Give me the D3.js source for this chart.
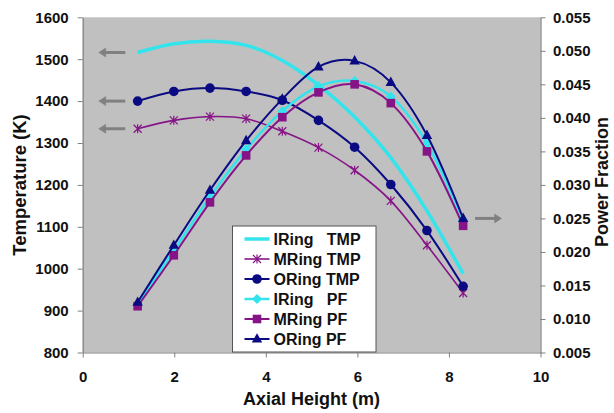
<!DOCTYPE html>
<html>
<head>
<meta charset="utf-8">
<script src="https://cdn.jsdelivr.net/npm/d3@7"></script>
<style>
  body { margin: 0; background: #fff; }
  svg text { font-family: "Liberation Sans", Arial, sans-serif; font-weight: bold; fill: #111; }
</style>
</head>
<body>
<div id="chart"></div>
<script>
// Data
const axialHeight = [1.2, 1.99, 2.78, 3.57, 4.36, 5.15, 5.94, 6.73, 7.52, 8.31];
const iRingTmp = [1516, 1537, 1543, 1533, 1497, 1438, 1362, 1265, 1138, 988];
const mRingTmp = [1334, 1354, 1363, 1358, 1328, 1289, 1235, 1162, 1056, 942];
const oRingTmp = [1400, 1423, 1431, 1423, 1402, 1354, 1290, 1201, 1091, 958];
const iRingPf = [0.0122, 0.0202, 0.0282, 0.0353, 0.0410, 0.0447, 0.0455, 0.0432, 0.0362, 0.0248];
const mRingPf = [0.0119, 0.0195, 0.0274, 0.0344, 0.0401, 0.0438, 0.0450, 0.0422, 0.0350, 0.0239];
const oRingPf = [0.0125, 0.0210, 0.0292, 0.0366, 0.0428, 0.0476, 0.0485, 0.0453, 0.0374, 0.0250];

const xTicks = [0, 2, 4, 6, 8, 10];
const tmpTicks = d3.range(800, 1601, 100);
const pfTicks = d3.range(0.005, 0.0551, 0.005);

// arrows pointing from the curves to their axis (in axial height units)
const leftArrowSpan = [0.93, 0.35];
const rightArrowSpan = [8.57, 9.15];

const width = 614;
const height = 413;

const svg = d3.select("#chart").append("svg").attr("width", width).attr("height", height);

const x = d3.scaleLinear().domain([0, 10]).range([82.7, 540.5]);
const yT = d3.scaleLinear().domain([800, 1600]).range([352.5, 17.3]);
const yP = d3.scaleLinear().domain([0.005, 0.055]).range([352.5, 17.3]);

// plot area
svg.append("rect")
  .attr("x", x(0)).attr("y", yT(1600))
  .attr("width", x(10) - x(0)).attr("height", yT(800) - yT(1600))
  .attr("fill", "#c0c0c0");

const cyan = "#33e4ec";
const purple = "#861486";
const navy = "#0a0a82";

const series = [
  { name: "IRing   TMP", values: iRingTmp, y: yT, color: cyan, lw: 3.5, marker: null },
  { name: "MRing TMP", values: mRingTmp, y: yT, color: purple, lw: 1.6, marker: "star" },
  { name: "ORing TMP", values: oRingTmp, y: yT, color: navy, lw: 2, marker: "circle" },
  { name: "IRing   PF", values: iRingPf, y: yP, color: cyan, lw: 2.5, marker: "diamond" },
  { name: "MRing PF", values: mRingPf, y: yP, color: purple, lw: 2, marker: "square" },
  { name: "ORing PF", values: oRingPf, y: yP, color: navy, lw: 2, marker: "triangle" }
];

function drawMarker(g, type, color) {
  if (type === "circle") {
    g.append("circle").attr("r", 4.8).attr("fill", color);
  } else if (type === "square") {
    g.append("rect").attr("x", -4.3).attr("y", -4.3).attr("width", 8.6).attr("height", 8.6).attr("fill", color);
  } else if (type === "triangle") {
    g.append("path").attr("d", "M0,-5.8L5.2,3.6L-5.2,3.6Z").attr("fill", color);
  } else if (type === "diamond") {
    g.append("path").attr("d", "M0,-5L5,0L0,5L-5,0Z").attr("fill", color);
  } else if (type === "star") {
    g.append("path").attr("d", "M-4,-4L4,4M-4,4L4,-4M0,-4.5L0,4.5")
      .attr("stroke", color).attr("stroke-width", 1.2).attr("fill", "none");
  }
}

const line = (yScale) => d3.line()
  .x((d, i) => x(axialHeight[i]))
  .y((d) => yScale(d))
  .curve(d3.curveCardinal.tension(0));

series.forEach((s) => {
  svg.append("path")
    .datum(s.values)
    .attr("d", line(s.y))
    .attr("fill", "none")
    .attr("stroke", s.color)
    .attr("stroke-width", s.lw);
  if (s.marker) {
    s.values.forEach((v, i) => {
      const g = svg.append("g").attr("transform", `translate(${x(axialHeight[i])},${s.y(v)})`);
      drawMarker(g, s.marker, s.color);
    });
  }
});

// gray arrows
function arrow(x1, x2, y) {
  const dir = x2 < x1 ? -1 : 1;
  const g = svg.append("g").attr("fill", "#808080").attr("stroke", "#808080");
  g.append("line").attr("x1", x1).attr("x2", x2 - dir * 5).attr("y1", y).attr("y2", y).attr("stroke-width", 3);
  g.append("path")
    .attr("d", `M${x2},${y}L${x2 - dir * 7},${y - 4.5}L${x2 - dir * 7},${y + 4.5}Z`)
    .attr("stroke-width", 0.5);
}
[iRingTmp, oRingTmp, mRingTmp].forEach((vals) => {
  arrow(x(leftArrowSpan[0]), x(leftArrowSpan[1]), yT(vals[0]));
});
arrow(x(rightArrowSpan[0]), x(rightArrowSpan[1]), yP(oRingPf[oRingPf.length - 1]));

// axes
const axisColor = "#808080";
function styleAxis(g, fontSize) {
  g.selectAll(".domain").attr("stroke", axisColor).attr("stroke-width", 1.2);
  g.selectAll(".tick line").attr("stroke", axisColor);
  g.selectAll(".tick text").attr("font-size", fontSize).style("fill", "#111")
    .attr("font-family", "'Liberation Sans', Arial, sans-serif").attr("font-weight", "bold");
}

svg.append("g")
  .attr("transform", `translate(0,${yT(800)})`)
  .call(d3.axisBottom(x).tickValues(xTicks).tickFormat(d3.format("d")).tickSize(5).tickSizeOuter(0).tickPadding(14))
  .call((g) => styleAxis(g, 15));

svg.append("g")
  .attr("transform", `translate(${x(0)},0)`)
  .call(d3.axisLeft(yT).tickValues(tmpTicks).tickFormat(d3.format("d")).tickSize(5).tickSizeOuter(0).tickPadding(9))
  .call((g) => styleAxis(g, 15));

svg.append("g")
  .attr("transform", `translate(${x(10)},0)`)
  .call(d3.axisRight(yP).tickValues(pfTicks).tickFormat(d3.format(".3f")).tickSize(5).tickSizeOuter(0).tickPadding(7.5))
  .call((g) => styleAxis(g, 15));

// titles
svg.append("text")
  .attr("x", (x(0) + x(10)) / 2).attr("y", 405)
  .attr("text-anchor", "middle").attr("font-size", 18)
  .text("Axial Height (m)");

svg.append("text")
  .attr("transform", `translate(26,185) rotate(-90)`)
  .attr("text-anchor", "middle").attr("font-size", 18.5)
  .text("Temperature (K)");

svg.append("text")
  .attr("transform", `translate(608,182) rotate(-90)`)
  .attr("text-anchor", "middle").attr("font-size", 18)
  .text("Power Fraction");

// legend
const legend = svg.append("g").attr("transform", "translate(232.5,226)");
legend.append("rect")
  .attr("width", 143.5).attr("height", 126)
  .attr("fill", "#fff").attr("stroke", "#555").attr("stroke-width", 1);

series.forEach((s, i) => {
  const ry = 13 + i * 20;
  legend.append("line")
    .attr("x1", 12).attr("x2", 37).attr("y1", ry).attr("y2", ry)
    .attr("stroke", s.color).attr("stroke-width", s.lw);
  if (s.marker) {
    const g = legend.append("g").attr("transform", `translate(24.5,${ry})`);
    drawMarker(g, s.marker, s.color);
  }
  legend.append("text")
    .attr("x", 41).attr("y", ry).attr("dy", "0.36em")
    .attr("font-size", 16)
    .style("white-space", "pre")
    .text(s.name);
});
</script>
</body>
</html>
